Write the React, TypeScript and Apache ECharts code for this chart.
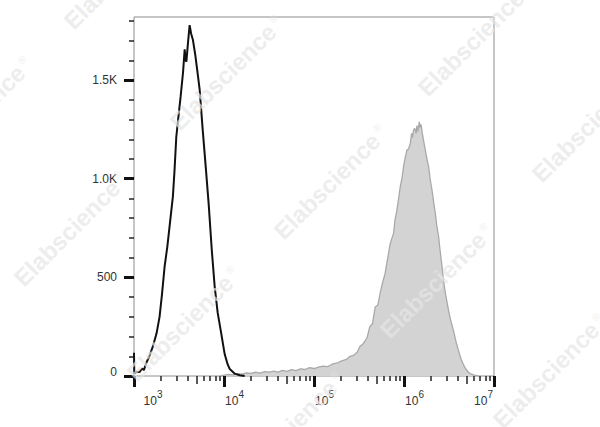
import React, { useEffect, useRef } from "react";
import * as echarts from "echarts";

// Isotype control (black outline) — x as log10(fluorescence), y = count
const isoLog = [3.0, 3.003, 3.03, 3.061, 3.09, 3.11, 3.136, 3.17, 3.209, 3.25, 3.284, 3.31, 3.34, 3.37, 3.395, 3.432, 3.45, 3.47, 3.495, 3.518, 3.545, 3.563, 3.574, 3.582, 3.6, 3.618, 3.635, 3.655, 3.68, 3.7, 3.73, 3.763, 3.797, 3.83, 3.864, 3.897, 3.93, 3.964, 4.008, 4.04, 4.064, 4.12, 4.175, 4.23];
const isoCount = [118, 12, 22, 20, 38, 30, 66, 100, 149, 215, 300, 410, 554, 655, 757, 909, 1040, 1213, 1320, 1416, 1540, 1656, 1600, 1593, 1690, 1779, 1735, 1703, 1630, 1560, 1450, 1250, 1060, 870, 640, 450, 320, 230, 110, 60, 35, 12, 4, 0];

// Stained sample (grey filled)
const stainLog = [3.96, 4.0, 4.05, 4.1, 4.15, 4.2, 4.25, 4.3, 4.35, 4.4, 4.45, 4.51, 4.55, 4.6, 4.65, 4.7, 4.75, 4.8, 4.85, 4.9, 4.95, 5.0, 5.05, 5.1, 5.15, 5.21, 5.26, 5.3, 5.36, 5.4, 5.44, 5.48, 5.51, 5.55, 5.59, 5.62, 5.65, 5.68, 5.71, 5.735, 5.76, 5.79, 5.82, 5.847, 5.86, 5.884, 5.9, 5.921, 5.94, 5.958, 5.98, 5.995, 6.01, 6.033, 6.05, 6.07, 6.085, 6.095, 6.106, 6.12, 6.135, 6.144, 6.155, 6.17, 6.18, 6.19, 6.2, 6.215, 6.237, 6.255, 6.274, 6.29, 6.311, 6.33, 6.348, 6.365, 6.385, 6.4, 6.423, 6.44, 6.46, 6.48, 6.496, 6.52, 6.552, 6.58, 6.608, 6.635, 6.663, 6.69, 6.719, 6.75, 6.78, 6.83];
const stainCount = [0, 4, 8, 6, 12, 10, 16, 13, 20, 15, 22, 20, 25, 20, 28, 24, 32, 27, 36, 33, 42, 38, 45, 50, 47, 62, 66, 75, 84, 100, 105, 120, 150, 165, 195, 250, 265, 350, 360, 420, 470, 520, 600, 672, 690, 723, 790, 841, 900, 959, 1010, 1061, 1100, 1145, 1150, 1179, 1230, 1210, 1247, 1255, 1230, 1270, 1240, 1289, 1260, 1275, 1240, 1200, 1145, 1100, 1061, 1000, 943, 880, 825, 760, 706, 640, 554, 480, 419, 370, 330, 280, 225, 170, 125, 85, 55, 33, 18, 9, 4, 0];

// Axes
const xDecades = [3, 4, 5, 6, 7];
const yTickValues = [0, 500, 1000, 1500];
const yTickLabels = ["0", "500", "1.0K", "1.5K"];
const yMinorValues = [100, 200, 300, 400, 600, 700, 800, 900, 1100, 1200, 1300, 1400, 1600, 1700, 1800];
const yMax = 1820;

// Watermark centres
const watermarks = [
  [327, 186], [67, 233], [223, 77], [471, 43], [585, 129], [433, 285],
  [180, 328], [546, 375], [284, 433], [-28, 118], [117, -24],
];

const zip = (a: number[], b: number[]) => a.map((v, i) => [v, b[i]]);

export default function App() {
  const ref = useRef<HTMLDivElement>(null);
  useEffect(() => {
    document.body.style.margin = "0";
    const chart = echarts.init(ref.current!, null, { renderer: "svg" });
    const minorX: number[] = [];
    const fiveX: number[] = [];
    for (let n = 3; n < 7; n++) {
      [2, 3, 4, 6, 7, 8, 9].forEach((k) => minorX.push(n + Math.log10(k)));
      fiveX.push(n + Math.log10(5));
    }
    const font = "'Liberation Sans', Arial, sans-serif";
    const hiddenLabel = { show: false };
    const baseX = {
      type: "value" as const,
      min: 3,
      max: 7,
      position: "bottom" as const,
      axisLine: { show: false },
      splitLine: { show: false },
    };
    const baseY = {
      type: "value" as const,
      min: 0,
      max: yMax,
      position: "left" as const,
      axisLine: { show: false },
      splitLine: { show: false },
    };
    const wmColor = "rgba(230,230,230,0.7)";
    const graphics: any[] = [];
    watermarks.forEach(([x, y]) => {
      graphics.push({
        type: "text",
        x,
        y,
        rotation: Math.PI / 4,
        z: 100,
        silent: true,
        style: {
          text: "Elabscience",
          font: `bold 24px ${font}`,
          fill: wmColor,
          textAlign: "center",
          textVerticalAlign: "middle",
        },
      });
      graphics.push({
        type: "text",
        x: x + 50,
        y: y - 58,
        rotation: Math.PI / 4,
        z: 100,
        silent: true,
        style: {
          text: "®",
          font: `10px ${font}`,
          fill: wmColor,
          textAlign: "center",
          textVerticalAlign: "middle",
        },
      });
    });

    chart.setOption({
      animation: false,
      grid: {
        left: 134,
        right: 106,
        top: 17,
        bottom: 51,
        show: true,
        borderColor: "#8c8c8c",
        borderWidth: 1,
        backgroundColor: "transparent",
        containLabel: false,
        outerBoundsMode: "none",
      },
      xAxis: [
        {
          ...baseX,
          axisTick: {
            show: true,
            customValues: xDecades,
            length: 11,
            lineStyle: { color: "#111", width: 3 },
          },
          axisLabel: {
            show: true,
            customValues: xDecades,
            margin: 18,
            color: "#333",
            fontFamily: font,
            formatter: (v: number) => {
              const e = Math.round(v);
              if (e === 3) return `{m| }{b|10}{e|${e}}`;
              if (e === 7) return `{b|10}{e|${e}}{s| }`;
              return `{s| }{b|10}{e|${e}}`;
            },
            rich: {
              b: { fontSize: 12, lineHeight: 14, verticalAlign: "middle", fontFamily: font, color: "#333" },
              e: { fontSize: 10, lineHeight: 10, verticalAlign: "middle", padding: [0, 0, 14, 0], fontFamily: font, color: "#333" },
              s: { width: 21, fontSize: 12, lineHeight: 10, verticalAlign: "middle" },
              m: { width: 38, fontSize: 12, lineHeight: 10, verticalAlign: "middle" },
            },
          },
        },
        {
          ...baseX,
          axisTick: { show: true, customValues: minorX, length: 5, lineStyle: { color: "#222", width: 1.5 } },
          axisLabel: hiddenLabel,
        },
        {
          ...baseX,
          axisTick: { show: true, customValues: fiveX, length: 8, lineStyle: { color: "#222", width: 1.5 } },
          axisLabel: hiddenLabel,
        },
      ],
      yAxis: [
        {
          ...baseY,
          axisTick: {
            show: true,
            customValues: yTickValues,
            length: 10,
            lineStyle: { color: "#111", width: 3 },
          },
          axisLabel: {
            show: true,
            customValues: yTickValues,
            margin: 17,
            fontSize: 12,
            color: "#333",
            fontFamily: font,
            formatter: (v: number) => {
              const i = yTickValues.indexOf(v);
              const t = i >= 0 ? yTickLabels[i] : "";
              return v === 0 ? `{z|${t}}` : t;
            },
            rich: {
              z: { fontSize: 12, color: "#333", fontFamily: font, padding: [0, 0, 8, 0] },
            },
          },
        },
        {
          ...baseY,
          axisTick: { show: true, customValues: yMinorValues, length: 5, lineStyle: { color: "#222", width: 1.5 } },
          axisLabel: hiddenLabel,
        },
      ],
      series: [
        {
          name: "Stained",
          type: "line",
          xAxisIndex: 0,
          yAxisIndex: 0,
          data: zip(stainLog, stainCount),
          showSymbol: false,
          lineStyle: { color: "#a9a9a9", width: 1.3 },
          areaStyle: { color: "#d3d3d3", opacity: 1 },
          z: 2,
        },
        {
          name: "Isotype",
          type: "line",
          xAxisIndex: 0,
          yAxisIndex: 0,
          data: zip(isoLog, isoCount),
          showSymbol: false,
          lineStyle: { color: "#111", width: 2 },
          z: 3,
        },
      ],
      graphic: graphics,
    });
    return () => chart.dispose();
  }, []);
  return (
    <div
      ref={ref}
      style={{ position: "absolute", left: 0, top: 0, width: 600, height: 427, background: "#fff" }}
    />
  );
}
